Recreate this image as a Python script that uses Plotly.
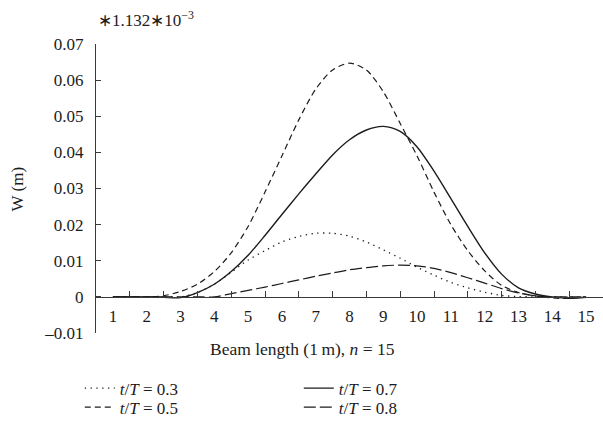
import plotly.graph_objects as go

# Beam position (element index along the 15 m beam)
x = [1, 1.5, 2, 2.5, 3, 3.5, 4, 4.5, 5, 5.5, 6, 6.5, 7, 7.5, 8, 8.5, 9, 9.5,
     10, 10.5, 11, 11.5, 12, 12.5, 13, 13.5, 14, 14.5, 15]

# Deflection W (scaled by 1.132e-3) at four instants t/T
w_03 = [0, 0, 0, 0, 0, 0.0012, 0.0035, 0.0068, 0.0102, 0.0128, 0.0152, 0.0167,
        0.0176, 0.0176, 0.0168, 0.0152, 0.0130, 0.0107, 0.0082, 0.0060, 0.0040,
        0.0025, 0.0013, 0.0004, 0.0001, 0, 0, 0, 0]
w_05 = [0, 0, 0, 0.0003, 0.0015, 0.0035, 0.0070, 0.0122, 0.0195, 0.0290, 0.0390,
        0.0490, 0.0575, 0.0628, 0.0647, 0.0628, 0.0568, 0.0480, 0.0390, 0.0290,
        0.0200, 0.0128, 0.0072, 0.0032, 0.0012, 0.0003, -0.0003, -0.0004, 0]
w_07 = [0, 0, 0, -0.0001, -0.0002, 0.0012, 0.0035, 0.0070, 0.0115, 0.0170, 0.0228,
        0.0285, 0.0340, 0.0393, 0.0435, 0.0462, 0.0472, 0.0458, 0.0415, 0.0348,
        0.0272, 0.0195, 0.0122, 0.0063, 0.0025, 0.0008, 0.0000, -0.0004, -0.0001]
w_08 = [0, 0, 0, 0, 0, 0, 0, 0.0009, 0.0018, 0.0027, 0.0037, 0.0047, 0.0057,
        0.0066, 0.0075, 0.0081, 0.0086, 0.0088, 0.0086, 0.0079, 0.0067, 0.0053,
        0.0038, 0.0023, 0.0011, 0.0003, 0, 0, 0]

x_ticks = list(range(1, 16))
x_bounds = [1.5, 2.5, 3.5, 4.5, 5.5, 6.5, 7.5, 8.5, 9.5, 10.5, 11.5, 12.5, 13.5, 14.5, 15.5]
y_ticks = [-0.01, 0, 0.01, 0.02, 0.03, 0.04, 0.05, 0.06, 0.07]
y_labels = ["\u20130.01", "0", "0.01", "0.02", "0.03", "0.04", "0.05", "0.06", "0.07"]

FONT = "Liberation Serif"
INK = "#1c1c1c"
AXIS = "#3a3a3a"

# name, values, dash, width, legend id, legend x (paper), legend y (paper)
series = [
    ("<i>t</i>/<i>T</i> = 0.3", w_03, "1.3px,4.5px", 1.3, "legend", -0.032, -0.13),
    ("<i>t</i>/<i>T</i> = 0.5", w_05, "6px,4px", 1.2, "legend2", -0.032, -0.196),
    ("<i>t</i>/<i>T</i> = 0.7", w_07, "solid", 1.4, "legend3", 0.40, -0.13),
    ("<i>t</i>/<i>T</i> = 0.8", w_08, "12px,4px", 1.2, "legend4", 0.40, -0.196),
]

fig = go.Figure()
legends = {}
for name, w, dash, lw, leg, lx, ly in series:
    fig.add_trace(go.Scatter(
        x=x, y=w, name=name, mode="lines",
        line=dict(color=INK, width=lw, dash=dash, shape="spline", smoothing=0.8),
        legend=leg, hoverinfo="skip",
    ))
    legends[leg] = dict(
        x=lx, y=ly, xanchor="left", yanchor="top",
        bgcolor="rgba(0,0,0,0)", font=dict(family=FONT, size=17, color=INK),
        tracegroupgap=0, itemwidth=30,
    )

# carrier trace for the boundary-tick axis
fig.add_trace(go.Scatter(x=[0.5], y=[0], xaxis="x2", mode="lines",
                         showlegend=False, hoverinfo="skip"))

zero_pos = (0 - y_ticks[0]) / (y_ticks[-1] - y_ticks[0])

fig.update_layout(
    width=603, height=429,
    margin=dict(l=96, r=0, t=44, b=96),
    paper_bgcolor="white", plot_bgcolor="white",
    font=dict(family=FONT, size=17, color=INK),
    showlegend=True,
    xaxis=dict(
        range=[0.5, 15.5], tickvals=x_ticks, ticktext=[str(v) for v in x_ticks],
        ticks="", showline=True, linecolor=AXIS, linewidth=1.3,
        anchor="free", position=zero_pos, showgrid=False, zeroline=False,
        tickfont=dict(family=FONT, size=17, color=INK), ticklabelstandoff=4,
    ),
    xaxis2=dict(
        range=[0.5, 15.5], overlaying="x", tickvals=x_bounds,
        ticks="inside", ticklen=6, tickcolor=AXIS, tickwidth=1.2,
        showticklabels=False, showline=False, showgrid=False, zeroline=False,
        anchor="free", position=zero_pos, side="bottom",
    ),
    yaxis=dict(
        range=[-0.01, 0.07], tickvals=y_ticks, ticktext=y_labels,
        ticks="inside", ticklen=5, tickcolor=AXIS, tickwidth=1.2,
        showline=True, linecolor=AXIS, linewidth=1.3,
        showgrid=False, zeroline=False,
        tickfont=dict(family=FONT, size=17, color=INK), ticklabelstandoff=8,
    ),
    annotations=[
        dict(text="\u22171.132\u221710<sup>\u22123</sup>", xref="paper", yref="paper",
             x=0.0, y=1.087, xanchor="left", yanchor="middle", showarrow=False,
             font=dict(family=FONT, size=17, color=INK)),
        dict(text="W (m)", xref="paper", yref="paper", x=-0.154, y=0.5,
             textangle=-90, xanchor="center", yanchor="middle", showarrow=False,
             font=dict(family=FONT, size=17, color=INK)),
        dict(text="Beam length (1\u2009m), <i>n</i> = 15", xref="paper", yref="paper",
             x=0.408, y=-0.055, xanchor="center", yanchor="middle", showarrow=False,
             font=dict(family=FONT, size=17.5, color=INK)),
    ],
)
fig.update_layout(**legends)

fig.write_html("out.html")
